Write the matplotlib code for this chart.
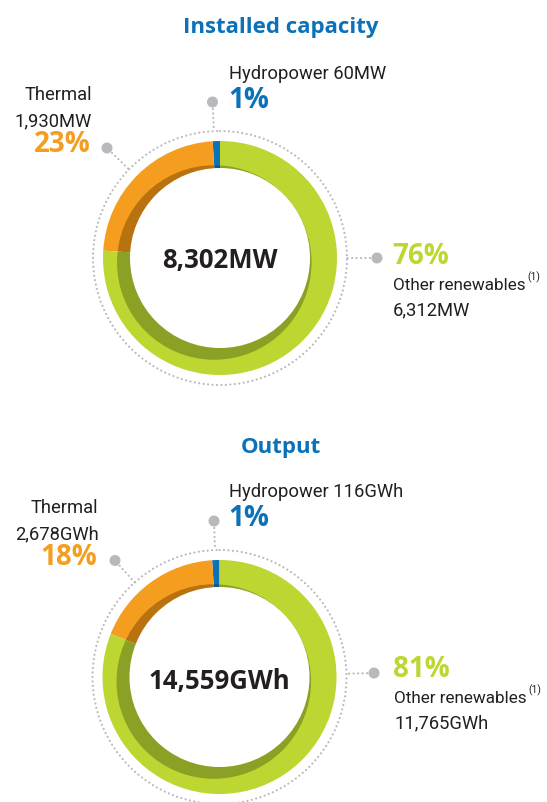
import matplotlib
matplotlib.use('Agg')
import numpy as np
import matplotlib.pyplot as plt
from matplotlib.patches import Wedge, Circle
from matplotlib import font_manager

# data
segments = ['Hydropower', 'Thermal', 'Other renewables']
cap_values = [60, 1930, 6312]
cap_pct = [1, 23, 76]
cap_total = 8302
out_values = [116, 2678, 11765]
out_pct = [1, 18, 81]
out_total = 14559

BLUE = '#0b72b9'
ORANGE = '#f59d1e'
GREEN = '#bdd631'
colors = [BLUE, ORANGE, GREEN]
dark_colors = ['#0a5a92', '#b8720f', '#8aa125']
TEXT = '#231f20'
GRAY = '#b9b9bd'

names = {f.name for f in font_manager.fontManager.ttflist}
light_font = next((n for n in ['Liberation Sans Narrow', 'Roboto'] if n in names), 'DejaVu Sans')
bold_font = 'Open Sans' if 'Open Sans' in names else 'DejaVu Sans'
light_size = 15 if light_font == 'Liberation Sans Narrow' else 13.2

R_OUT, R_WHITE, R_DOTS = 117, 90, 127
SHADOW = (-5.7, 4.5)   # offset of the inner shadow ring (image px, y down)

fig = plt.figure(figsize=(5.47, 8.03), dpi=100)
ax = fig.add_axes([0, 0, 1, 1])
ax.set_xlim(0, 547)
ax.set_ylim(803, 0)
ax.axis('off')


def dotted(x0, y0, x1, y1):
    ax.plot([x0, x1], [y0, y1], color=GRAY, lw=1.6, ls=(0, (0.01, 2.0)),
            dash_capstyle='round')


def callout(c, dot):
    d = np.array(c) - np.array(dot)
    d = d / np.hypot(*d)
    start = np.array(dot) + d * 7
    end = np.array(c) - d * R_DOTS
    dotted(start[0], start[1], end[0], end[1])
    ax.add_patch(Circle(dot, 5.5, color=GRAY, lw=0))


def donut(c, pct, total_txt, total_y):
    cx, cy = c
    a = 0.0
    shadow_clip = Circle((cx + SHADOW[0], cy + SHADOW[1]), R_WHITE + np.hypot(*SHADOW),
                         transform=ax.transData)
    for p, col, dcol in zip(pct, colors, dark_colors):
        a1 = a + p * 3.6
        ax.add_patch(Wedge(c, R_OUT, -90 - a1, -90 - a, color=col, lw=0))
        w = Wedge(c, R_OUT - 5, -90 - a1, -90 - a, color=dcol, lw=0)
        ax.add_patch(w)
        w.set_clip_path(shadow_clip)
        a = a1
    ax.add_patch(Circle(c, R_WHITE, color='white', lw=0))
    ring = Circle(c, R_DOTS, fill=False, ec=GRAY, lw=1.6, ls=(0, (0.01, 2.0)))
    ring.set_capstyle('round')
    ax.add_patch(ring)
    ax.text(cx, total_y, total_txt, ha='center', va='baseline', color=TEXT,
            fontsize=18.5, fontweight='bold', family=bold_font)


def light(x, y, s, ha='left', size=None):
    return ax.text(x, y, s, ha=ha, va='baseline', color=TEXT,
                   fontsize=size or light_size, family=light_font)


def bold(x, y, s, col, ha='left'):
    ax.text(x, y, s, ha=ha, va='baseline', color=col, fontsize=20, fontweight='bold',
            family=bold_font)


def panel(title, title_y, c, total_y, values, pct, total, unit, lay):
    ax.text(281, title_y, title, ha='center', va='baseline', color=BLUE,
            fontsize=16, fontweight='bold', family=bold_font)
    donut(c, pct, f'{total:,}{unit}', total_y)

    # hydropower
    hx, hy = lay['hydro']
    light(hx, hy, f'{segments[0]} {values[0]:,}{unit}')
    bold(hx - 1, hy + 29, f'{pct[0]}%', BLUE)
    callout(c, lay['hydro_dot'])

    # thermal
    tx, ty = lay['thermal']
    light(tx, ty, segments[1], ha='right')
    light(tx, ty + 26.5, f'{values[1]:,}{unit}', ha='right')
    bold(tx - 1, ty + 52.5, f'{pct[1]}%', ORANGE, ha='right')
    callout(c, lay['thermal_dot'])

    # other renewables, footnote mark placed right after the label
    ox, oy = lay['other']
    bold(ox - 1, oy, f'{pct[2]}%', GREEN)
    t = light(ox, oy + 26.5, segments[2], size=light_size - 0.9)
    fig.canvas.draw()
    bb = t.get_window_extent()
    x_end = ax.transData.inverted().transform((bb.x1, bb.y0))[0]
    light(x_end + 1.5, oy + 16, '(1)', size=7.5)
    light(ox, oy + 51.5, f'{values[2]:,}{unit}')
    callout(c, lay['other_dot'])


panel('Installed capacity', 33, (220, 259), 268, cap_values, cap_pct, cap_total, 'MW',
      {'hydro': (229, 79), 'hydro_dot': (212.5, 103),
       'thermal': (92, 100), 'thermal_dot': (107, 149),
       'other': (393, 264), 'other_dot': (377, 259)})

panel('Output', 453, (219.5, 678), 689, out_values, out_pct, out_total, 'GWh',
      {'hydro': (229, 497), 'hydro_dot': (214, 522),
       'thermal': (98.5, 513), 'thermal_dot': (115, 561.5),
       'other': (394, 677), 'other_dot': (374, 674)})

fig.savefig('out.png', dpi=100)
